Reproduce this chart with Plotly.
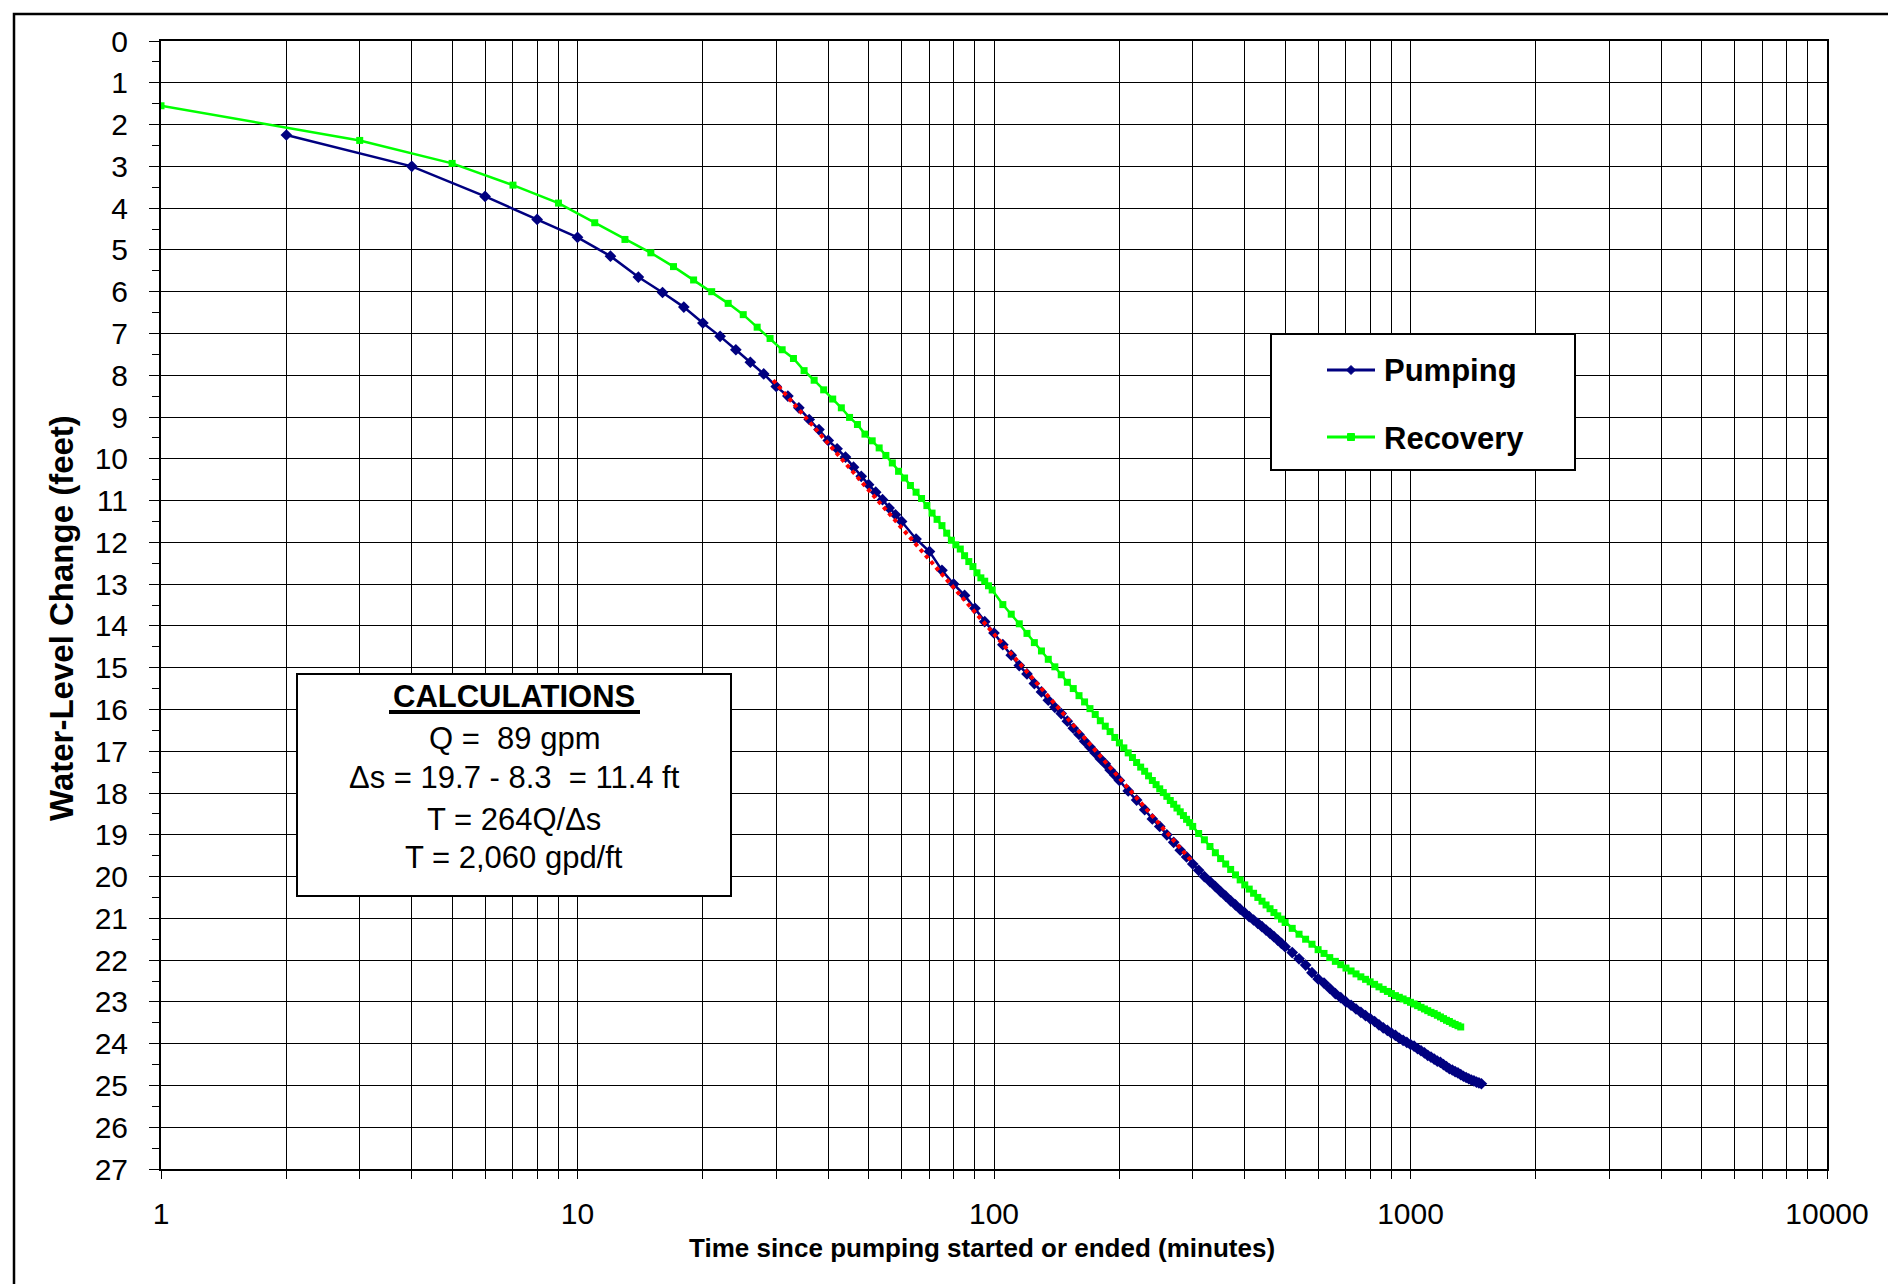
import plotly.graph_objects as go

# ---------------- data ----------------
pump_t = [2, 4, 6, 8, 10, 12, 14, 16, 18, 20, 22, 24, 26, 28, 30, 32, 34, 36, 38, 40,
          42, 44, 46, 48, 50, 52, 54, 56, 58, 60, 65, 70, 75, 80, 85, 90, 95, 100, 105, 110,
          115, 120, 125, 130, 135, 140, 145, 150, 155, 160, 165, 170, 175, 180, 185, 190, 195, 200,
          210, 220, 230, 240, 250, 260, 270, 280, 290, 300, 310, 320, 330, 340, 350, 360, 370, 380,
          390, 400, 410, 420, 430, 440, 450, 460, 470, 480, 490, 500, 520, 540, 560, 580, 600, 620,
          640, 660, 680, 700, 720, 740, 760, 780, 800, 820, 840, 860, 880, 900, 920, 940, 960, 980,
          1000, 1020, 1040, 1060, 1080, 1100, 1120, 1140, 1160, 1180, 1200, 1220, 1240, 1260, 1280,
          1300, 1320, 1340, 1360, 1380, 1400, 1420, 1440, 1460, 1480]
pump_s = [2.25, 3.00, 3.72, 4.27, 4.70, 5.15, 5.65, 6.02, 6.37, 6.75, 7.07, 7.39, 7.69, 7.97, 8.27,
          8.50, 8.78, 9.06, 9.30, 9.56, 9.76, 9.96, 10.20, 10.42, 10.62, 10.80, 10.98, 11.18, 11.34,
          11.50, 11.92, 12.22, 12.67, 13.00, 13.27, 13.58, 13.90, 14.17, 14.45, 14.70, 14.95, 15.15,
          15.38, 15.58, 15.78, 15.95, 16.10, 16.28, 16.45, 16.60, 16.76, 16.90, 17.04, 17.18, 17.30,
          17.45, 17.57, 17.70, 17.95, 18.17, 18.40, 18.62, 18.80, 19.00, 19.18, 19.37, 19.53, 19.70,
          19.85, 20.00, 20.12, 20.24, 20.36, 20.47, 20.58, 20.68, 20.78, 20.87, 20.96, 21.04, 21.12,
          21.20, 21.28, 21.36, 21.44, 21.52, 21.60, 21.68, 21.82, 21.97, 22.12, 22.30, 22.45, 22.55,
          22.68, 22.80, 22.90, 23.00, 23.08, 23.17, 23.25, 23.33, 23.40, 23.47, 23.55, 23.62, 23.68,
          23.75, 23.80, 23.87, 23.92, 23.97, 24.02, 24.06, 24.12, 24.17, 24.22, 24.28, 24.32, 24.37,
          24.42, 24.45, 24.50, 24.55, 24.60, 24.63, 24.67, 24.70, 24.74, 24.78, 24.81, 24.84, 24.87,
          24.89, 24.92, 24.94, 24.96]

rec_t = [1, 3, 5, 7, 9, 11, 13, 15, 17, 19, 21, 23, 25, 27, 29, 31, 33, 35, 37, 39, 41, 43, 45,
         47, 49, 51, 53, 55, 57, 59, 61, 63, 65, 67, 69, 71, 73, 75, 77, 79, 81, 83, 85, 87, 89,
         91, 93, 95, 97, 99, 105, 110, 115, 120, 125, 130, 135, 140, 145, 150, 155, 160, 165, 170,
         175, 180, 185, 190, 195, 200, 205, 210, 215, 220, 225, 230, 235, 240, 245, 250, 255, 260,
         265, 270, 275, 280, 285, 290, 295, 300, 310, 320, 330, 340, 350, 360, 370, 380, 390, 400,
         410, 420, 430, 440, 450, 460, 470, 480, 490, 500, 520, 540, 560, 580, 600, 620, 640, 660,
         680, 700, 720, 740, 760, 780, 800, 820, 840, 860, 880, 900, 920, 940, 960, 980, 1000, 1020,
         1040, 1060, 1080, 1100, 1120, 1140, 1160, 1180, 1200, 1220, 1240, 1260, 1280, 1300, 1320]
rec_s = [1.55, 2.38, 2.93, 3.45, 3.88, 4.35, 4.75, 5.07, 5.40, 5.72, 6.00, 6.28, 6.55, 6.85, 7.12,
         7.39, 7.60, 7.89, 8.12, 8.35, 8.57, 8.78, 9.01, 9.18, 9.41, 9.57, 9.74, 9.92, 10.10, 10.30,
         10.46, 10.64, 10.80, 10.95, 11.12, 11.30, 11.45, 11.60, 11.78, 11.95, 12.06, 12.16, 12.32,
         12.46, 12.58, 12.73, 12.85, 12.93, 13.04, 13.14, 13.49, 13.72, 13.95, 14.18, 14.40, 14.60,
         14.80, 14.98, 15.17, 15.35, 15.50, 15.67, 15.82, 15.98, 16.12, 16.27, 16.40, 16.53, 16.67,
         16.80, 16.92, 17.04, 17.15, 17.27, 17.38, 17.48, 17.59, 17.70, 17.80, 17.90, 17.99, 18.08,
         18.18, 18.27, 18.36, 18.45, 18.54, 18.63, 18.71, 18.80, 18.97, 19.12, 19.28, 19.43, 19.57,
         19.70, 19.83, 19.96, 20.08, 20.20, 20.30, 20.40, 20.50, 20.59, 20.68, 20.77, 20.86, 20.94,
         21.02, 21.10, 21.24, 21.38, 21.50, 21.62, 21.75, 21.84, 21.94, 22.03, 22.11, 22.19, 22.26,
         22.33, 22.40, 22.46, 22.52, 22.58, 22.64, 22.70, 22.75, 22.80, 22.85, 22.89, 22.93, 22.97,
         23.01, 23.05, 23.09, 23.13, 23.17, 23.21, 23.25, 23.28, 23.32, 23.36, 23.40, 23.44, 23.47,
         23.51, 23.54, 23.57, 23.60]

fit_t = [29.5, 300]
fit_s = [8.12, 19.66]

x_ticks = [1, 2, 3, 4, 5, 6, 7, 8, 9, 10, 20, 30, 40, 50, 60, 70, 80, 90, 100, 200, 300, 400,
           500, 600, 700, 800, 900, 1000, 2000, 3000, 4000, 5000, 6000, 7000, 8000, 9000, 10000]
x_labels = {1: "1", 10: "10", 100: "100", 1000: "1000", 10000: "10000"}
y_ticks = list(range(0, 28))

calc_lines = ["Q =\u00a0\u00a089 gpm",
              "\u0394s = 19.7 - 8.3\u00a0\u00a0= 11.4 ft",
              "T = 264Q/\u0394s",
              "T = 2,060 gpd/ft"]

NAVY = "#000080"
LIME = "#00FF00"
FONT = "Liberation Sans, Arial, sans-serif"

# ---------------- layout geometry (pixels) ----------------
W, H = 1896, 1284
L, R, T, B = 153, 1819, 33, 1161


def px(x):
    return (x - L) / (R - L)


def py(y):
    return (B - y) / (B - T)


fig = go.Figure()
fig.add_trace(go.Scatter(x=rec_t, y=rec_s, mode="lines+markers", name="Recovery",
                         line=dict(color=LIME, width=2.5),
                         marker=dict(symbol="square", size=7, color=LIME)))
fig.add_trace(go.Scatter(x=pump_t, y=pump_s, mode="lines+markers", name="Pumping",
                         line=dict(color=NAVY, width=2.5),
                         marker=dict(symbol="diamond", size=9, color=NAVY)))
fig.add_trace(go.Scatter(x=fit_t, y=fit_s, mode="lines", name="fit",
                         line=dict(color="red", width=4, dash="dot")))

shapes = []
ann = []

# outer chart border
shapes.append(dict(type="rect", xref="paper", yref="paper",
                   x0=px(6), x1=px(1893), y0=py(6), y1=py(1282),
                   line=dict(color="black", width=2.5), fillcolor="rgba(0,0,0,0)", layer="above"))

# legend box
shapes.append(dict(type="rect", xref="paper", yref="paper",
                   x0=px(1263), x1=px(1567), y0=py(326), y1=py(462),
                   line=dict(color="black", width=2), fillcolor="white", layer="above"))
leg_items = [("Pumping", NAVY, 362, "diamond"), ("Recovery", LIME, 429, "square")]
for name, col, yy, sym in leg_items:
    shapes.append(dict(type="line", xref="paper", yref="paper",
                       x0=px(1319), x1=px(1367), y0=py(yy), y1=py(yy),
                       line=dict(color=col, width=3), layer="above"))
    cx = 1343
    if sym == "diamond":
        path = "M{},{} L{},{} L{},{} L{},{} Z".format(px(cx - 4.5), py(yy), px(cx), py(yy - 4.5),
                                                     px(cx + 4.5), py(yy), px(cx), py(yy + 4.5))
        shapes.append(dict(type="path", xref="paper", yref="paper", path=path,
                           fillcolor=col, line=dict(color=col, width=1), layer="above"))
    else:
        shapes.append(dict(type="rect", xref="paper", yref="paper",
                           x0=px(cx - 3.5), x1=px(cx + 3.5), y0=py(yy - 3.5), y1=py(yy + 3.5),
                           fillcolor=col, line=dict(color=col, width=1), layer="above"))
    ann.append(dict(text="<b>" + name + "</b>", xref="paper", yref="paper",
                    x=px(1374), y=py(yy + 1), xanchor="left", yanchor="middle", showarrow=False,
                    font=dict(family=FONT, size=31, color="black")))

# calculations box
shapes.append(dict(type="rect", xref="paper", yref="paper",
                   x0=px(289), x1=px(723), y0=py(666), y1=py(888),
                   line=dict(color="black", width=2), fillcolor="white", layer="above"))
cx_calc = 506
ann.append(dict(text="<b>CALCULATIONS</b>", xref="paper", yref="paper",
                x=px(cx_calc), y=py(688), xanchor="center", yanchor="middle", showarrow=False,
                font=dict(family=FONT, size=31, color="black")))
shapes.append(dict(type="line", xref="paper", yref="paper",
                   x0=px(381), x1=px(632), y0=py(704), y1=py(704),
                   line=dict(color="black", width=4), layer="above"))
for txt, yy in zip(calc_lines, [730, 769, 811, 850]):
    ann.append(dict(text=txt, xref="paper", yref="paper",
                    x=px(cx_calc), y=py(yy), xanchor="center", yanchor="middle", showarrow=False,
                    font=dict(family=FONT, size=31, color="black")))

# axis titles
ann.append(dict(text="<b>Time since pumping started or ended (minutes)</b>", xref="paper", yref="paper",
                x=px(974), y=py(1240), xanchor="center", yanchor="middle", showarrow=False,
                font=dict(family=FONT, size=26, color="black")))
ann.append(dict(text="<b>Water-Level Change (feet)</b>", xref="paper", yref="paper",
                x=px(53), y=py(610), xanchor="center", yanchor="middle", showarrow=False,
                textangle=-90, font=dict(family=FONT, size=33, color="black")))

fig.update_layout(
    width=W, height=H,
    margin=dict(l=L, r=W - R, t=T, b=H - B, pad=0),
    paper_bgcolor="white", plot_bgcolor="white",
    showlegend=False,
    font=dict(family=FONT, color="black"),
    shapes=shapes, annotations=ann,
)
fig.update_xaxes(
    type="log", range=[0, 4],
    tickmode="array", tickvals=x_ticks, ticktext=[x_labels.get(v, "") for v in x_ticks],
    showgrid=True, gridcolor="black", gridwidth=1,
    ticks="outside", ticklen=8, tickcolor="black", tickwidth=1,
    showline=True, linecolor="black", linewidth=2, mirror=True,
    tickfont=dict(family=FONT, size=30, color="black"),
    ticklabelstandoff=9, zeroline=False,
)
fig.update_yaxes(
    range=[27, 0], tickmode="array", tickvals=y_ticks, ticktext=[str(v) for v in y_ticks],
    showgrid=True, gridcolor="black", gridwidth=1,
    ticks="outside", ticklen=10, tickcolor="black", tickwidth=1,
    minor=dict(dtick=0.5, tick0=0, ticks="outside", ticklen=7, tickcolor="black", showgrid=False),
    showline=True, linecolor="black", linewidth=2, mirror=True,
    tickfont=dict(family=FONT, size=30, color="black"),
    ticklabelstandoff=15, zeroline=False,
)

fig.write_html("out.html")
